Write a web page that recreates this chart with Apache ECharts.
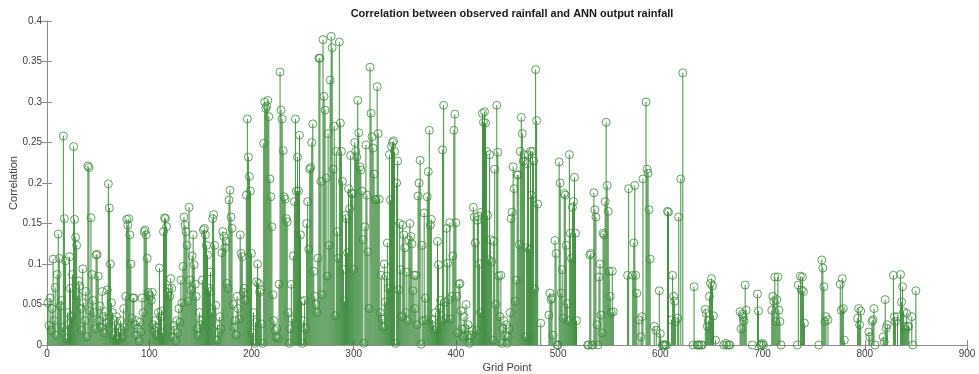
<!DOCTYPE html>
<html>
<head>
<meta charset="utf-8">
<script src="https://cdn.jsdelivr.net/npm/echarts@6/dist/echarts.min.js"></script>
<style>
  html, body { margin: 0; padding: 0; background: #fff; }
  #chart { width: 979px; height: 374px; }
</style>
</head>
<body>
<div id="chart"></div>
<script>
// correlation per grid point (null = no value plotted)
const rho0 = [
  0.052, 0.024, 0.058, 0.018, 0.045, 0.106, 0.030, 0.071, 0.012, 0.087,
  0.137, 0.107, 0.048, 0.055, 0.022, 0.258, 0.156, 0.104, 0.008, 0.040,
  0.025, 0.109, 0.070, 0.035, 0.087, 0.245, 0.155, 0.133, 0.123, 0.061,
  0.079, 0.073, 0.045, 0.018, 0.094, 0.052, 0.030, 0.066, 0.010, 0.221,
  0.219, 0.042, 0.157, 0.087, 0.055, 0.040, 0.020, 0.111, 0.112, 0.085,
  0.030, 0.048, 0.022, 0.066, 0.035, 0.015, 0.041, 0.027, 0.068, 0.199,
  0.169, 0.100, 0.052, 0.040, 0.012, 0.030, 0.024, 0.035, 0.008, 0.020,
  0.015, 0.030, 0.018, 0.010, 0.045, 0.022, 0.060, 0.155, 0.148, 0.156,
  0.136, 0.100, 0.033, 0.058, 0.058, 0.025, 0.012, 0.030, 0.020, 0.005,
  0.028, 0.016, 0.058, 0.040, 0.140, 0.142, 0.136, 0.107, 0.065, 0.062
];
const rho100 = [
  0.060, 0.055, 0.065, 0.025, 0.018, 0.030, 0.012, 0.022, 0.040, 0.095,
  0.035, 0.042, 0.015, 0.140, 0.157, 0.156, 0.146, 0.065, 0.070, 0.060,
  0.082, 0.070, 0.010, 0.024, 0.018, 0.005, 0.030, 0.015, 0.045, 0.028,
  0.080, 0.052, 0.097, 0.158, 0.148, 0.140, 0.123, 0.054, 0.170, 0.080,
  0.068, 0.110, 0.136, 0.099, 0.075, 0.060, 0.020, 0.012, 0.040, 0.025,
  0.030, 0.080, 0.142, 0.144, 0.136, 0.123, 0.111, 0.070, 0.066, 0.090,
  0.040, 0.156, 0.161, 0.123, 0.049, 0.006, 0.025, 0.015, 0.035, 0.020,
  0.114, 0.140, 0.134, 0.120, 0.128, 0.076, 0.070, 0.179, 0.191, 0.158,
  0.144, 0.050, 0.022, 0.030, 0.012, 0.060, 0.045, 0.032, 0.136, 0.113,
  0.109, 0.065, 0.070, 0.055, 0.185, 0.279, 0.232, 0.208, 0.190, 0.113
];
const rho200 = [
  0.015, 0.040, 0.002, 0.028, 0.078, 0.100, 0.076, 0.065, 0.068, 0.026,
  0.002, 0.249, 0.300, 0.292, 0.295, 0.302, 0.282, 0.205, 0.183, 0.146,
  0.062, 0.030, 0.018, 0.010, 0.020, 0.008, 0.075, 0.337, 0.290, 0.279,
  0.240, 0.183, 0.180, 0.156, 0.152, 0.040, 0.002, 0.020, 0.075, 0.032,
  0.110, 0.177, 0.279, 0.190, 0.232, 0.190, 0.259, 0.136, 0.054, 0.002,
  0.030, 0.055, 0.020, 0.150, 0.177, 0.118, 0.217, 0.219, 0.250, 0.273,
  0.091, 0.060, 0.050, 0.040, 0.107, 0.354, 0.354, 0.202, 0.062, 0.377,
  0.307, 0.290, 0.206, 0.085, 0.261, 0.123, 0.327, 0.381, 0.367, 0.217,
  0.270, 0.036, 0.239, 0.140, 0.107, 0.374, 0.274, 0.239, 0.202, 0.093,
  0.054, 0.160, 0.156, 0.114, 0.193, 0.168, 0.234, 0.187, 0.187, 0.093
];
const rho300 = [
  0.250, 0.239, 0.232, 0.302, 0.262, 0.220, 0.216, 0.190, 0.130, 0.002,
  0.146, 0.247, 0.185, 0.115, 0.045, 0.343, 0.286, 0.257, 0.243, 0.211,
  0.179, 0.180, 0.319, 0.261, 0.180, 0.040, 0.086, 0.032, 0.022, 0.100,
  0.053, 0.085, 0.126, 0.070, 0.235, 0.179, 0.245, 0.250, 0.252, 0.239,
  0.002, 0.200, 0.227, 0.068, 0.150, 0.093, 0.035, 0.148, 0.136, 0.120,
  0.040, 0.090, 0.030, 0.130, 0.150, 0.134, 0.125, 0.067, 0.086, 0.045,
  0.086, 0.025, 0.184, 0.200, 0.228, 0.001, 0.123, 0.030, 0.163, 0.058,
  0.031, 0.183, 0.214, 0.265, 0.148, 0.155, 0.031, 0.024, 0.018, 0.040,
  0.020, 0.128, 0.099, 0.045, 0.055, 0.030, 0.241, 0.296, 0.053, 0.032,
  0.144, 0.101, 0.056, 0.151, 0.032, 0.060, 0.110, 0.265, 0.285, 0.151
];
const rho400 = [
  0.060, 0.015, 0.075, 0.076, 0.042, 0.020, 0.010, 0.035, 0.020, 0.050,
  0.012, 0.025, 0.002, 0.008, 0.012, 0.018, 0.170, 0.158, 0.126, 0.018,
  0.154, 0.159, 0.100, 0.040, 0.164, 0.286, 0.275, 0.288, 0.274, 0.239,
  0.160, 0.105, 0.235, 0.130, 0.103, 0.006, 0.128, 0.217, 0.050, 0.296,
  0.238, 0.085, 0.035, 0.086, 0.002, 0.020, 0.030, 0.012, 0.025, 0.002,
  0.010, 0.020, 0.040, 0.156, 0.164, 0.220, 0.193, 0.054, 0.080, 0.210,
  0.210, 0.124, 0.239, 0.281, 0.261, 0.227, 0.235, 0.010, 0.120, 0.224,
  0.235, 0.118, 0.239, 0.185, 0.239, 0.227, 0.069, 0.340, 0.277, 0.174,
  null, null, 0.027, null, null, null, null, null, null, null,
  0.037, 0.064, 0.056, 0.058, 0.012, null, 0.129, 0.113, 0.000, 0.000
];
const rho500 = [
  0.226, 0.200, 0.064, 0.093, 0.033, 0.187, 0.185, 0.123, 0.051, 0.030,
  0.235, 0.138, 0.107, 0.170, 0.177, 0.207, 0.138, 0.030, null, null,
  null, null, null, null, null, null, null, null, 0.000, 0.000,
  0.111, 0.113, 0.000, 0.000, 0.188, 0.167, 0.158, 0.025, 0.000, 0.084,
  0.100, 0.037, 0.015, 0.138, 0.136, 0.177, 0.275, 0.197, 0.165, 0.091,
  0.060, 0.040, 0.091, 0.041, null, null, null, null, null, null,
  null, null, null, null, null, null, null, 0.086, 0.193, null,
  null, null, 0.086, 0.126, 0.197, 0.086, 0.064, null, 0.031, null,
  0.010, 0.035, 0.205, null, null, 0.300, 0.217, 0.212, 0.167, 0.106,
  null, null, null, 0.023, null, 0.018, null, null, 0.067, 0.014
];
const rho600 = [
  null, 0.000, 0.000, 0.000, 0.000, 0.000, 0.165, 0.164, null, null,
  0.031, 0.086, 0.060, 0.054, 0.029, null, 0.033, 0.158, null, 0.205,
  null, 0.336, null, null, null, null, null, null, null, null,
  null, 0.000, 0.072, null, null, 0.000, 0.000, 0.000, null, 0.000,
  0.000, null, null, 0.044, 0.039, 0.023, 0.030, 0.060, 0.076, 0.082,
  0.073, 0.036, null, 0.006, null, null, null, null, null, null,
  null, 0.000, null, 0.002, 0.000, null, 0.000, 0.000, null, null,
  null, null, null, null, null, null, null, 0.041, 0.020, 0.038,
  0.035, 0.030, 0.074, 0.043, null, null, null, null, null, 0.000,
  null, null, null, null, 0.063, 0.042, null, 0.000, 0.000, 0.002
];
const rho700 = [
  0.000, null, null, null, null, null, null, null, 0.043, 0.060,
  0.054, 0.084, 0.029, 0.056, 0.084, 0.043, 0.029, 0.000, null, null,
  null, null, null, null, null, null, null, null, null, null,
  null, null, null, 0.000, 0.074, null, 0.085, 0.068, 0.084, 0.066,
  0.027, null, null, null, null, null, null, null, null, null,
  null, null, null, null, 0.000, null, null, 0.105, 0.095, 0.072,
  0.029, 0.035, null, 0.031, null, null, null, null, null, null,
  null, null, null, null, null, 0.075, 0.043, 0.082, 0.045, 0.006,
  null, null, null, null, null, null, null, null, null, null,
  null, null, 0.033, 0.045, 0.025, 0.042, null, null, null, null
];
const rho800 = [
  null, null, null, 0.016, 0.010, null, 0.029, 0.031, 0.045, 0.000,
  null, null, null, null, null, null, null, 0.010, 0.004, 0.056,
  0.021, 0.025, null, null, null, null, null, 0.086, 0.035, 0.029,
  null, 0.035, null, null, 0.087, 0.053, 0.072, 0.041, 0.023, 0.019,
  0.039, 0.023, 0.023, null, null, 0.035, 0.000, null, null, 0.067
];

const rho = [].concat(rho0, rho100, rho200, rho300, rho400, rho500, rho600, rho700, rho800);
const points = [];
rho.forEach((v, i) => {
  if (v !== null) points.push([i + 1, v]);
});

const stemColor = '#237a23';
const ringColor = '#3b8a3b';
const axisGray = '#8c8c8c';
const labelColor = '#404040';
const font = 'Liberation Sans, Arial, sans-serif';

const chart = echarts.init(document.getElementById('chart'));
const option = {
  animation: false,
  title: {
    text: 'Correlation between observed rainfall and ANN output rainfall',
    left: 507,
    textAlign: 'center',
    top: 3,
    textStyle: { fontFamily: font, fontSize: 11, fontWeight: 'bold', color: '#1a1a1a' }
  },
  grid: { left: 47, right: 12, top: 21, bottom: 29, outerBoundsMode: 'none' },
  xAxis: [
    {
      type: 'value',
      min: 0,
      max: 900,
      interval: 100,
      name: 'Grid Point',
      nameLocation: 'middle',
      nameGap: 17,
      nameMoveOverlap: false,
      nameTextStyle: { fontFamily: font, fontSize: 11, color: labelColor },
      axisLine: { lineStyle: { color: axisGray } },
      axisTick: { inside: true, length: 5, lineStyle: { color: axisGray } },
      axisLabel: { fontFamily: font, fontSize: 10, color: labelColor, margin: 4 },
      splitLine: { show: false }
    },
    {
      type: 'value',
      position: 'top',
      min: 0,
      max: 900,
      interval: 100,
      axisLine: { show: true, lineStyle: { color: axisGray } },
      axisTick: { inside: true, length: 5, lineStyle: { color: axisGray } },
      axisLabel: { show: false },
      splitLine: { show: false }
    }
  ],
  yAxis: [
    {
      type: 'value',
      min: 0,
      max: 0.4,
      interval: 0.05,
      name: 'Correlation',
      nameLocation: 'middle',
      nameGap: 28,
      nameMoveOverlap: false,
      nameRotate: 90,
      nameTextStyle: { fontFamily: font, fontSize: 11, color: labelColor },
      axisLine: { show: true, lineStyle: { color: axisGray } },
      axisTick: { show: true, inside: true, length: 5, lineStyle: { color: axisGray } },
      axisLabel: {
        fontFamily: font,
        fontSize: 10,
        color: labelColor,
        margin: 5,
        formatter: (value) => String(Number(value.toFixed(2)))
      },
      splitLine: { show: false }
    },
    {
      type: 'value',
      position: 'right',
      min: 0,
      max: 0.4,
      interval: 0.05,
      axisLine: { show: true, lineStyle: { color: axisGray } },
      axisTick: { show: true, inside: true, length: 5, lineStyle: { color: axisGray } },
      axisLabel: { show: false },
      splitLine: { show: false }
    }
  ],
  series: [
    {
      type: 'bar',
      data: points,
      barWidth: 1,
      itemStyle: { color: stemColor, opacity: 0.85 },
      silent: true
    },
    {
      type: 'scatter',
      data: points,
      symbol: 'circle',
      symbolSize: 8,
      itemStyle: { color: 'rgba(0,0,0,0)', borderColor: ringColor, borderWidth: 1 },
      silent: true
    }
  ]
};
chart.setOption(option);
</script>
</body>
</html>
